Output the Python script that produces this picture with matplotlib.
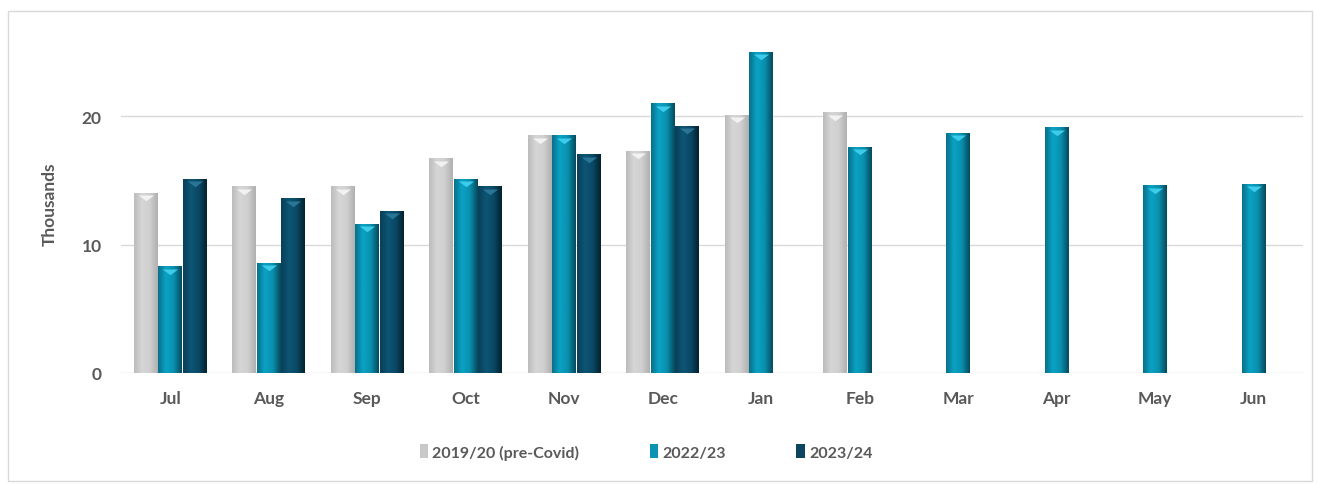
import numpy as np
import matplotlib
matplotlib.use("Agg")
import matplotlib.pyplot as plt
from matplotlib.colors import LinearSegmentedColormap
from matplotlib.patches import Rectangle
from matplotlib.transforms import offset_copy

months = ["Jul", "Aug", "Sep", "Oct", "Nov", "Dec", "Jan", "Feb", "Mar", "Apr", "May", "Jun"]
series_names = ["2019/20 (pre-Covid)", "2022/23", "2023/24"]
pre_covid = [14.0, 14.5, 14.5, 16.7, 18.5, 17.3, 20.1, 20.3, None, None, None, None]
y2022 = [8.3, 8.55, 11.6, 15.1, 18.5, 21.0, 25.0, 17.6, 18.7, 19.1, 14.6, 14.7]
y2023 = [15.1, 13.6, 12.6, 14.5, 17.0, 19.25, None, None, None, None, None, None]
yticks = [0, 10, 20]

# gradient stops: left edge, centre-left highlight, right edge
grad_colors = [
    ["#bcbcbc", "#d6d6d6", "#cfcfcf", "#b0b0b0"],
    ["#08708b", "#0aa3c5", "#0a8fad", "#054a5d"],
    ["#0a3f58", "#0d5575", "#0a4864", "#04222f"],
]
chevron_colors = ["#f2f2f2", "#3ccbea", "#2a7596"]
legend_colors = ["#c8c8c8", "#0a93b3", "#0b4560"]
text_color = "#595959"

W, H, DPI = 1319, 485, 100
fig = plt.figure(figsize=(W / DPI, H / DPI), dpi=DPI)
fig.patch.set_facecolor("white")
fig.add_artist(Rectangle((8 / W, 1 - 482 / H), (1312 - 8) / W, (482 - 12) / H,
                         transform=fig.transFigure, fill=False,
                         edgecolor="#d9d9d9", linewidth=1.0))

ax = fig.add_axes([121 / W, 1 - 374 / H, (1303 - 121) / W, (374 - 34) / H])
ax.set_xlim(-0.5, len(months) - 0.5)
ax.set_ylim(0, 26.5)

font = "Lato"
bw = 0.25
offsets = [-bw, 0, bw]
all_series = [pre_covid, y2022, y2023]
x = np.arange(len(months))
chevron = [(-1.0, 0.0), (1.0, 0.0), (0.0, -0.75), (-1.0, 0.0)]

for s, vals in enumerate(all_series):
    cmap = LinearSegmentedColormap.from_list(f"g{s}", grad_colors[s])
    grad = np.linspace(0, 1, 64).reshape(1, -1)
    for i, v in enumerate(vals):
        if v is None:
            continue
        x0 = x[i] + offsets[s] - bw / 2
        ax.imshow(grad, cmap=cmap, extent=(x0 + 0.004, x0 + bw - 0.004, 0, v),
                  aspect="auto", zorder=2, interpolation="bilinear")
        # chevron at the top of the bar
        tr = offset_copy(ax.transData, fig=fig, x=0, y=-1.5, units="points")
        ax.plot([x[i] + offsets[s]], [v], marker=chevron, markersize=11,
                color=chevron_colors[s], markeredgewidth=0, transform=tr, zorder=3)

for t in yticks:
    ax.axhline(t, color="#d9d9d9", linewidth=1.0, zorder=1)

for sp in ax.spines.values():
    sp.set_visible(False)
ax.set_xticks(x)
ax.set_xticklabels(months)
ax.set_yticks(yticks)
ax.tick_params(length=0, labelsize=12.5, labelcolor=text_color, pad=14)
ax.tick_params(axis="x", pad=12)
for lab in ax.get_xticklabels() + ax.get_yticklabels():
    lab.set_fontweight("bold")
    lab.set_fontfamily(font)
ax.set_ylabel("Thousands", fontsize=12.5, fontweight="bold", color=text_color,
              fontfamily=font, labelpad=17)

handles = [Rectangle((0, 0), 1, 1, facecolor=c, edgecolor="none") for c in legend_colors]
leg = fig.legend(handles, series_names, loc="center", bbox_to_anchor=(646 / W, 1 - 453 / H),
                 ncol=3, frameon=False, handlelength=0.55, handleheight=0.9,
                 handletextpad=0.25, columnspacing=4.4,
                 prop={"family": font, "size": 11.5, "weight": "bold"})
for t in leg.get_texts():
    t.set_color(text_color)

fig.savefig("out.png", dpi=DPI, facecolor="white")
